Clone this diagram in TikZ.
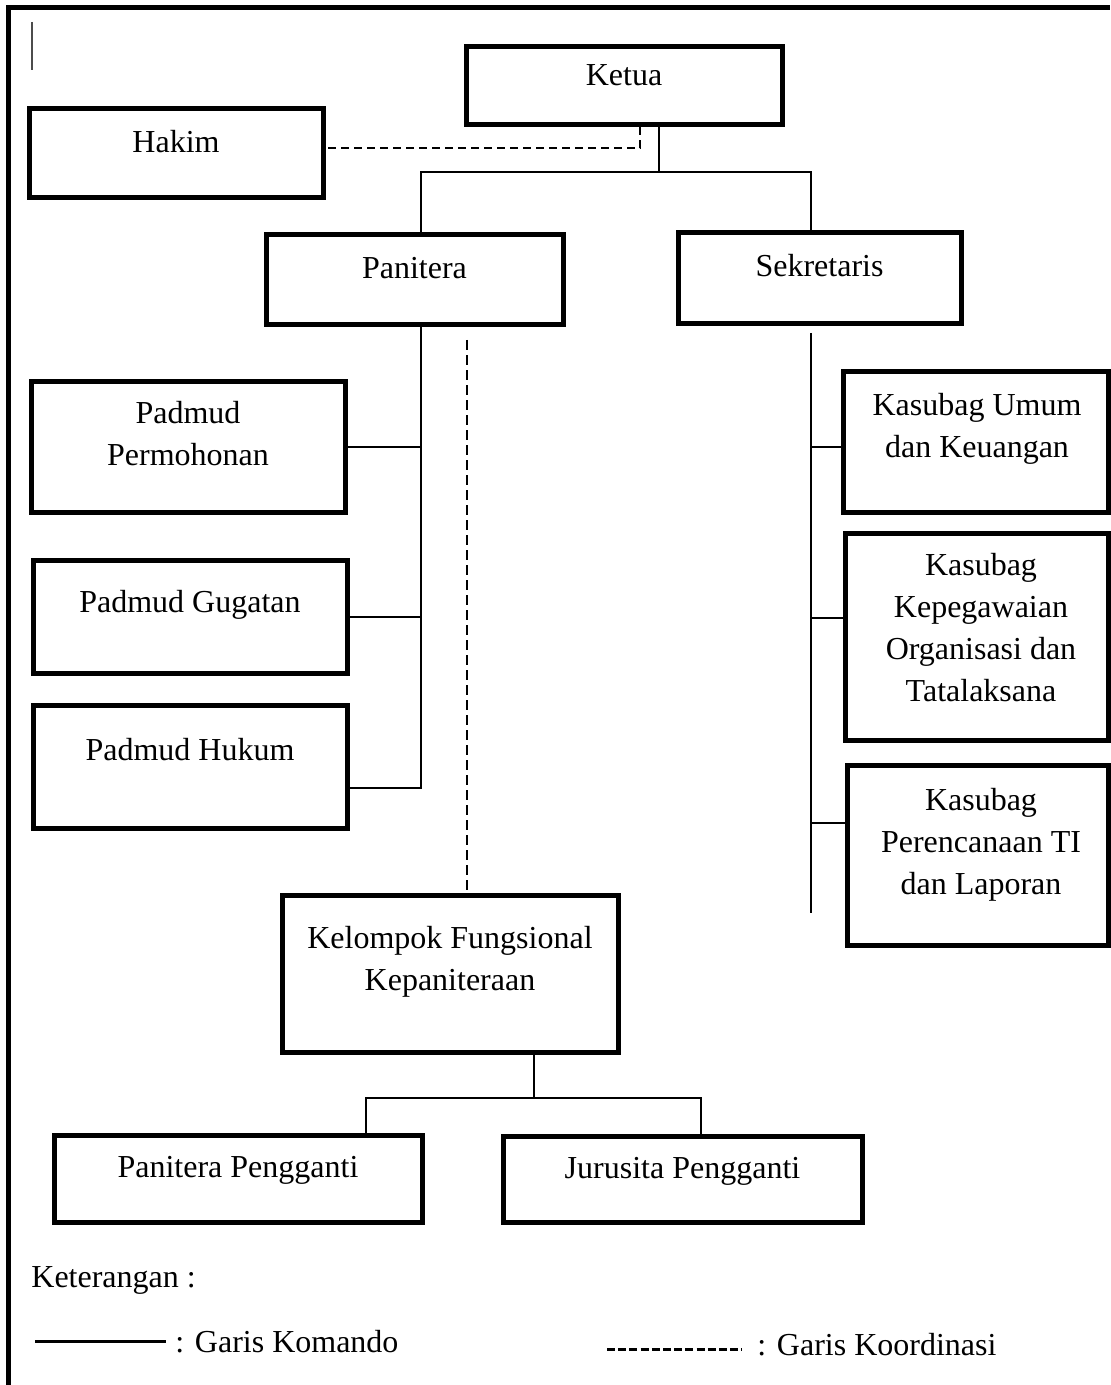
\documentclass[tikz,border=0pt]{standalone}
\usepackage{fontspec}
\setmainfont{Liberation Serif}
\usetikzlibrary{positioning}
\tikzset{orgbox/.style = {
    draw,
    line width = 2.5pt,
    inner sep = 0pt
}}
\tikzset{boxtext/.style = {
    inner sep = 0pt,
    align = center,
    font = \fontsize{16}{21}\selectfont
}}
\tikzset{komando/.style = {
    line width = 1pt
}}
\tikzset{koordinasi/.style = {
    line width = 1pt,
    dash pattern = on 4pt off 2.5pt
}}

\begin{document}
\begin{tikzpicture}[x = 0.5pt, y = -0.5pt]
    \useasboundingbox
        (0, 0) rectangle (1110, 1385)
    ;

    % Frame
    \draw
        [line width = 2.5pt]
        (8, 1385) -- (8, 7.5) -- (1110, 7.5)
    ;
    \draw
        [line width = 1.2pt, black!70]
        (32, 22) -- (32, 70)
    ;

    % Boxes
    \node [orgbox, minimum width = 158pt, minimum height = 39pt] (ketua) at (624, 86) {};
    \node [orgbox, minimum width = 147pt, minimum height = 44.5pt] (hakim) at (176, 153.5) {};
    \node [orgbox, minimum width = 148.5pt, minimum height = 45pt] (panitera) at (414.5, 280) {};
    \node [orgbox, minimum width = 141.5pt, minimum height = 45.5pt] (sekretaris) at (819.5, 278.5) {};
    \node [orgbox, minimum width = 157pt, minimum height = 65.5pt] (permohonan) at (188, 446.5) {};
    \node [orgbox, minimum width = 157pt, minimum height = 56.5pt] (gugatan) at (190, 616.5) {};
    \node [orgbox, minimum width = 157pt, minimum height = 61.5pt] (hukum) at (190, 766.5) {};
    \node [orgbox, minimum width = 132.5pt, minimum height = 70.5pt] (umum) at (975.5, 441.5) {};
    \node [orgbox, minimum width = 131.5pt, minimum height = 103.5pt] (kepegawaian) at (976.5, 636.5) {};
    \node [orgbox, minimum width = 130.5pt, minimum height = 90pt] (perencanaan) at (977.5, 855) {};
    \node [orgbox, minimum width = 168pt, minimum height = 78.5pt] (kelompok) at (450, 973.5) {};
    \node [orgbox, minimum width = 184pt, minimum height = 43.5pt] (pengganti) at (238, 1178.5) {};
    \node [orgbox, minimum width = 179.5pt, minimum height = 43pt] (jurusita) at (682.5, 1179) {};

    % Texts
    \node [boxtext, below = 10pt of ketua.north] (ketua-t) {Ketua};
    \node [boxtext, below = 11.5pt of hakim.north] (hakim-t) {Hakim};
    \node [boxtext, below = 12pt of panitera.north] (panitera-t) {Panitera};
    \node [boxtext, below = 11.5pt of sekretaris.north] (sekretaris-t) {Sekretaris};
    \node [boxtext, below = 11pt of permohonan.north] (permohonan-t) {Padmud\\Permohonan};
    \node [boxtext, below = 16pt of gugatan.north] (gugatan-t) {Padmud Gugatan};
    \node [boxtext, below = 17.5pt of hukum.north] (hukum-t) {Padmud Hukum};
    \node [boxtext, below = 12pt of umum.north, xshift = 0.75pt] (umum-t) {Kasubag Umum\\dan Keuangan};
    \node [boxtext, below = 11pt of kepegawaian.north, xshift = 2.25pt] (kepegawaian-t)
        {Kasubag\\Kepegawaian\\Organisasi dan\\Tatalaksana};
    \node [boxtext, below = 12.5pt of perencanaan.north, xshift = 1.75pt] (perencanaan-t)
        {Kasubag\\Perencanaan TI\\dan Laporan};
    \node [boxtext, below = 16.5pt of kelompok.north] (kelompok-t) {Kelompok Fungsional\\Kepaniteraan};
    \node [boxtext, below = 11.5pt of pengganti.north] (pengganti-t) {Panitera Pengganti};
    \node [boxtext, below = 11.5pt of jurusita.north] (jurusita-t) {Jurusita Pengganti};

    % Junctions
    \coordinate (ksplit) at (659, 172);
    \coordinate (hdash) at (640, 148);
    \coordinate (pspine) at (421, 325);
    \coordinate (sspine) at (811, 333);
    \coordinate (send) at (811, 913);
    \coordinate (l3) at (421, 788);
    \coordinate (r1) at (811, 447);
    \coordinate (r2) at (811, 618);
    \coordinate (r3) at (811, 823);
    \coordinate (dtop) at (467, 340);
    \coordinate (bsplit) at (534, 1098);
    \coordinate (lleg) at (366, 1098);
    \coordinate (rleg) at (701, 1098);

    % Garis komando
    \draw
        [komando]
        (ketua.south -| ksplit) -- (ksplit)
    ;
    \draw
        [komando]
        (panitera.north -| pspine) |- (ksplit) -| (sekretaris.north -| sspine)
    ;
    \draw
        [komando]
        (panitera.south -| pspine) -- (l3) -- (hukum.east |- l3)
    ;
    \draw [komando] (permohonan.east) -- (permohonan.east -| pspine);
    \draw [komando] (gugatan.east) -- (gugatan.east -| pspine);
    \draw
        [komando]
        (sspine) -- (send)
    ;
    \draw [komando] (r1) -- (umum.west |- r1);
    \draw [komando] (r2) -- (kepegawaian.west |- r2);
    \draw [komando] (r3) -- (perencanaan.west |- r3);
    \draw
        [komando]
        (kelompok.south -| bsplit) -- (bsplit)
    ;
    \draw
        [komando]
        (pengganti.north -| lleg) |- (rleg) -- (jurusita.north -| rleg)
    ;

    % Garis koordinasi
    \draw
        [koordinasi]
        (ketua.south -| hdash) -- (hdash) -- (hakim.east |- hdash)
    ;
    \draw
        [koordinasi, dash pattern = on 5pt off 2.5pt]
        (dtop) -- (kelompok.north -| dtop)
    ;

    % Keterangan
    \node [boxtext, anchor = base west] (ket) at (31, 1287) {Keterangan :};
    \coordinate (kom-a) at (35, 1341);
    \coordinate (kom-b) at (166, 1341);
    \draw
        [line width = 1.5pt]
        (kom-a) -- (kom-b)
    ;
    \node [boxtext, anchor = base west] (kom-t) at (175, 1352) {: Garis Komando};
    \coordinate (kor-a) at (607, 1349);
    \coordinate (kor-b) at (742, 1349);
    \draw
        [line width = 1.5pt, dash pattern = on 4pt off 1.6pt]
        (kor-a) -- (kor-b)
    ;
    \node [boxtext, anchor = base west] (kor-t) at (757, 1355) {: Garis Koordinasi};

\end{tikzpicture}
\end{document}
